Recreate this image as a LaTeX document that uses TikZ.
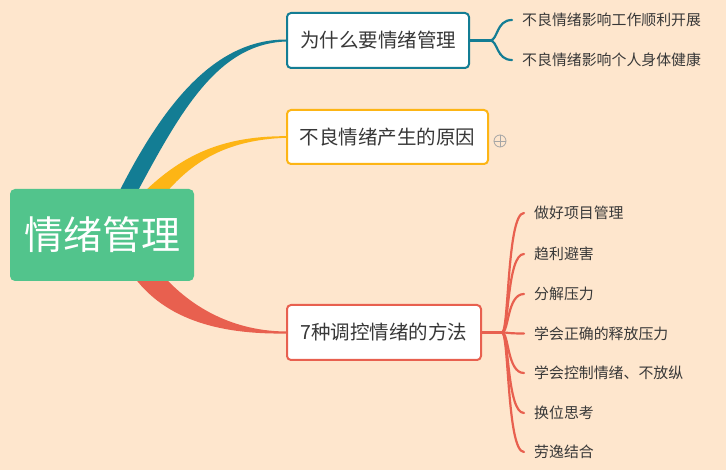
\documentclass[tikz,border=0pt]{standalone}
\usepackage{fontspec}
\setmainfont{Noto Sans CJK SC}
\definecolor{bgc}{HTML}{FEE6CD}
\definecolor{cgreen}{HTML}{52C48C}
\definecolor{cteal}{HTML}{137D94}
\definecolor{cyel}{HTML}{FDB515}
\definecolor{cred}{HTML}{E8604F}
\definecolor{ctext}{HTML}{383838}
\tikzset{
  topicbox/.style={draw, line width=2pt, fill=white, rounded corners=4pt, text=ctext, font=\fontsize{19.5}{22}\selectfont, inner sep=0pt, anchor=center},
  leaf/.style={anchor=west, text=ctext, font=\fontsize{14.9}{16}\selectfont, inner sep=0pt},
  twig/.style={line width=2.2pt, line cap=round}
}
\begin{document}
\begin{tikzpicture}[x=1pt,y=-1pt]
\fill[bgc] (0,0) rectangle (726,470);
\useasboundingbox (0,0) rectangle (726,470);
% topic boxes
\node[topicbox, draw=cteal, minimum width=182pt, minimum height=55pt] (t1) at (378,40.5) {为什么要情绪管理};
\node[topicbox, draw=cyel, minimum width=201pt, minimum height=54pt] (t2) at (387.5,137) {不良情绪产生的原因};
\node[topicbox, draw=cred, minimum width=194pt, minimum height=55pt] (t3) at (384,332.5) {7种调控情绪的方法};
% tapered main branches
\fill[cteal] (115,200) .. controls (161,107) and (213,39.5) .. ([yshift=1pt]t1.west)
  -- ([yshift=-1pt]t1.west) .. controls (217,44) and (180,112) .. (133,200) -- cycle;
\fill[cyel] (136,200) .. controls (175,160) and (215,136) .. ([yshift=0.8pt]t2.west)
  -- ([yshift=-0.8pt]t2.west) .. controls (222,140) and (188,165) .. (160,200) -- cycle;
\fill[cred] (128,268) .. controls (160,320) and (220,334.5) .. ([yshift=-1pt]t3.west)
  -- ([yshift=1pt]t3.west) .. controls (225,331) and (180,300) .. (152,262) -- cycle;
% central node
\node[fill=cgreen, rounded corners=5pt, minimum width=184pt, minimum height=92pt, inner sep=0pt,
  text=white, font=\fontsize{39}{44}\selectfont] (c) at (102,235) {情绪管理};
% topic 1 children
\coordinate (j1) at (490,40.5);
\node[leaf] (a1) at (522,20) {不良情绪影响工作顺利开展};
\node[leaf] (a2) at (522,60) {不良情绪影响个人身体健康};
\draw[cteal, twig] (t1.east) -- (j1);
\coordinate (a1e) at (512,20);
\coordinate (a2e) at (512,60);
\draw[cteal, twig] (j1) .. controls (498,40.5) and (496,20) .. (a1e);
\draw[cteal, twig] (j1) .. controls (498,40.5) and (496,60) .. (a2e);
% plus symbol
\node[draw=gray!70, circle, line width=0.8pt, minimum size=12pt, inner sep=0pt] (plus) at (500,141) {};
\draw[gray!70, line width=0.8pt] (plus.north) -- (plus.south) (plus.west) -- (plus.east);
% topic 3 children
\coordinate (j3) at (502,332.5);
\draw[cred, line width=3pt] (t3.east) -- (j3);
\foreach \i/\y/\t in {1/213/做好项目管理, 2/254/趋利避害, 3/294/分解压力, 4/333.5/学会正确的释放压力, 5/373/学会控制情绪、不放纵, 6/413/换位思考, 7/452/劳逸结合}{
  \node[leaf] (m\i) at (534,\y) {\t};
  \coordinate (e\i) at (524,\y);
  \draw[cred, twig] (j3) .. controls (509,332.5) and (507,\y) .. (e\i);
}
\end{tikzpicture}
\end{document}
